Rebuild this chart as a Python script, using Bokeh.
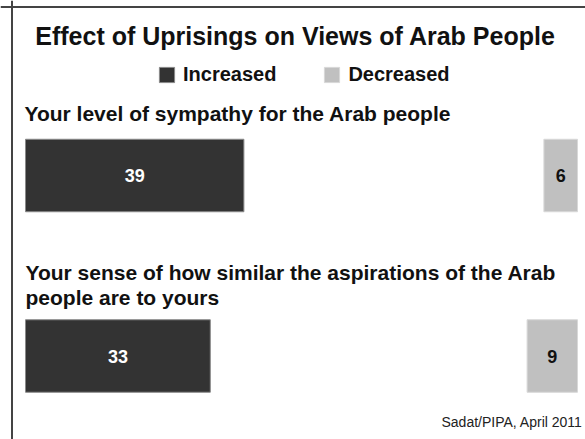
from bokeh.plotting import figure
from bokeh.models import Range1d, ColumnDataSource, Legend, LegendItem, Span
from bokeh.core.properties import value
from bokeh.embed import file_html
from bokeh.resources import INLINE

# ---- data ----
questions = ["Your level of sympathy for the Arab people",
             "Your sense of how similar the aspirations of the Arab\npeople are to yours"]
increased = [39, 33]
decreased = [6, 9]
series_names = ["Increased", "Decreased"]
title_text = "Effect of Uprisings on Views of Arab People"
source_text = "Sadat/PIPA, April 2011"

# ---- layout ----
W, H = 585, 439
PXU = 5.6
X0 = -25 / PXU
def X(px):  # screen x -> data x
    return X0 + px / PXU
def Y(py):  # screen y -> data y (flipped range)
    return py

RIGHT_ANCHOR = X(577)
row_centers = [Y(175), Y(355.5)]
bar_h = 72.5

FONT = "Liberation Sans"
DARK = "#333333"
LIGHT = "#c0c0c0"

p = figure(width=W, height=H, output_backend="svg", toolbar_location=None,
           x_range=Range1d(X0, X0 + W / PXU), y_range=Range1d(H, 0),
           min_border=0, x_axis_type=None, y_axis_type=None)
p.grid.visible = False
p.outline_line_color = None
p.background_fill_color = "white"
p.border_fill_color = "white"

inc_src = ColumnDataSource(dict(
    y=row_centers, left=[0] * len(increased), right=increased,
    lab=[str(v) for v in increased],
    xm=[v / 2 for v in increased]))
dec_src = ColumnDataSource(dict(
    y=row_centers, left=[RIGHT_ANCHOR - v for v in decreased],
    right=[RIGHT_ANCHOR] * len(decreased),
    lab=[str(v) for v in decreased],
    xm=[RIGHT_ANCHOR - v / 2 for v in decreased]))

r_inc = p.hbar(y="y", left="left", right="right", height=bar_h, source=inc_src,
               fill_color=DARK, line_color="#8a8a8a", line_width=1)
r_dec = p.hbar(y="y", left="left", right="right", height=bar_h, source=dec_src,
               fill_color=LIGHT, line_color="#d8d8d8", line_width=1)

p.text(x="xm", y="y", text="lab", source=inc_src, text_color="white",
       text_font=value(FONT), text_font_style="bold", text_font_size="18px",
       text_align="center", text_baseline="middle")
p.text(x="xm", y="y", text="lab", source=dec_src, text_color="#111111",
       text_font=value(FONT), text_font_style="bold", text_font_size="18px",
       text_align="center", text_baseline="middle")

# title
p.text(x=[X(295)], y=[Y(35)], text=[title_text], text_color="#111111",
       text_font=value(FONT), text_font_style="bold", text_font_size="25px",
       text_align="center", text_baseline="middle")

# question labels (one glyph per line)
q_pos = [(24, 113), (25, 272)]
for q, (qx, qy) in zip(questions, q_pos):
    lines = q.split("\n")
    p.text(x=[X(qx)] * len(lines), y=[Y(qy + 25 * i) for i in range(len(lines))],
           text=lines, text_color="#111111",
           text_font=value(FONT), text_font_style="bold", text_font_size="21px",
           text_align="left", text_baseline="middle")

# source
p.text(x=[X(441)], y=[Y(421)], text=[source_text], text_color="#222222",
       text_font=value(FONT), text_font_size="14px",
       text_align="left", text_baseline="middle")

# border (top and left)
p.add_layout(Span(location=Y(6.5), dimension="width", line_color="#444444", line_width=2))
p.add_layout(Span(location=X(11.5), dimension="height", line_color="#444444", line_width=2))

legend = Legend(items=[LegendItem(label=series_names[0], renderers=[r_inc]),
                       LegendItem(label=series_names[1], renderers=[r_dec])],
                orientation="horizontal", location=(157, H - 67 - 19),
                glyph_width=19, glyph_height=19, label_height=19,
                label_standoff=7, spacing=46, padding=0, margin=0,
                border_line_alpha=0, background_fill_alpha=0,
                label_text_font=FONT, label_text_font_style="bold",
                label_text_font_size="20px", label_text_color="#111111")
p.add_layout(legend, "center")

open("out.html", "w").write(file_html(p, INLINE))
